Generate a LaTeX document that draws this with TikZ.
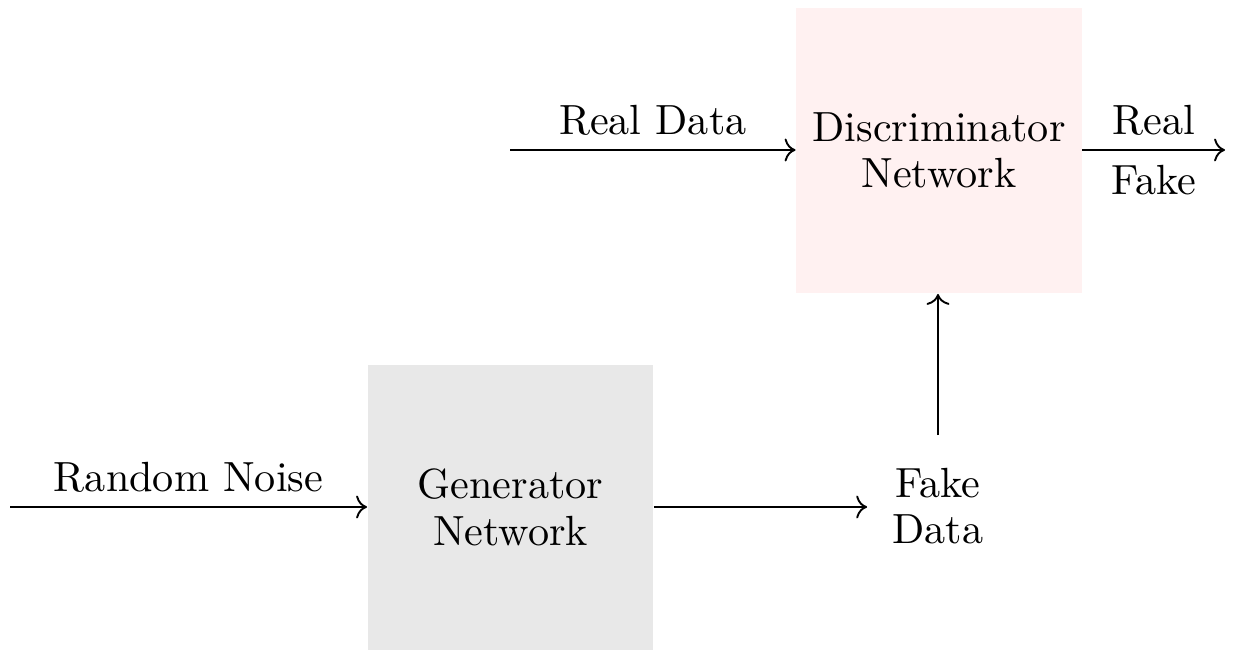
\documentclass[tikz,border=0pt]{standalone}
\usetikzlibrary{arrows.meta}
\definecolor{genfill}{HTML}{E8E8E8}
\definecolor{discfill}{HTML}{FFF1F1}
\begin{document}
\begin{tikzpicture}[x=0.237pt,y=-0.237pt,
  netbox/.style={minimum size=67.6pt, inner sep=0pt, align=center, draw=none, font=\fontsize{10}{11}\selectfont},
  plain/.style={minimum size=33.2pt, inner sep=0pt, align=center, font=\fontsize{10}{11}\selectfont},
  flow/.style={->, line width=0.45pt}]
\useasboundingbox (0,0) rectangle (1238,650);
\node[netbox, fill=genfill] (gen) at (510.5,507.5) {Generator\\Network};
\node[netbox, fill=discfill] (disc) at (939,150.5) {Discriminator\\Network};
\node[plain] (fake) at (938,506) {Fake\\Data};
\coordinate (noise) at (10,507);
\coordinate (real) at (510,150);
\coordinate (out) at (1225,150);
\draw[flow] (noise) -- node[above] {Random Noise} (gen.west |- noise);
\draw[flow] (gen.east |- noise) -- (fake.west |- noise);
\draw[flow] (fake.north) -- (fake.north |- disc.south);
\draw[flow] (real) -- node[above] {Real Data} (disc.west |- real);
\draw[flow] (disc.east |- out) -- node[above] {Real} node[below] {Fake} (out);
\end{tikzpicture}
\end{document}
